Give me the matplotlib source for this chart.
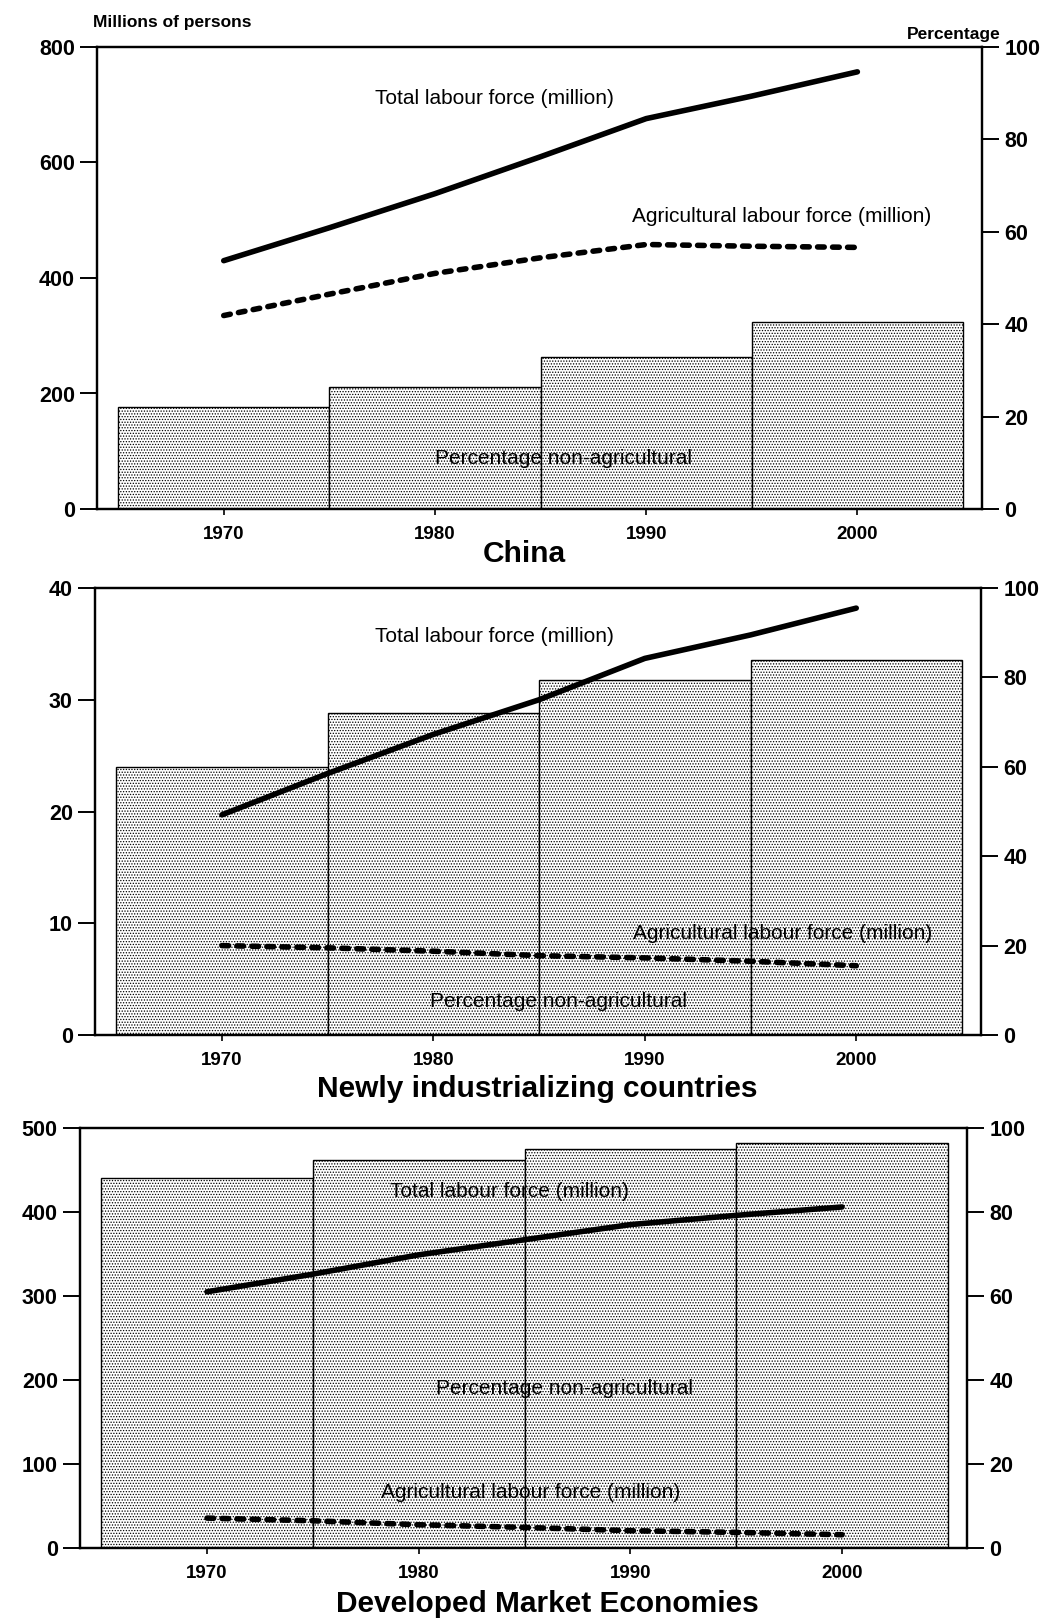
import matplotlib
matplotlib.use("Agg")
import matplotlib.pyplot as plt

plt.rcParams['font.family'] = ['Liberation Sans', 'DejaVu Sans']
plt.rcParams['hatch.color'] = 'black'
plt.rcParams['hatch.linewidth'] = 0.6

years = [1970, 1975, 1980, 1985, 1990, 1995, 2000]
bar_years = [1970, 1980, 1990, 2000]

# China
china_total = [430, 487, 546, 610, 676, 715, 757]
china_agri = [335, 372, 408, 435, 458, 455, 453]
china_pct = [22, 26.5, 33, 40.5]

# Newly industrializing countries
nic_total = [19.7, 23.4, 26.9, 30.0, 33.7, 35.8, 38.2]
nic_agri = [8.0, 7.8, 7.5, 7.1, 6.9, 6.6, 6.2]
nic_pct = [60, 72, 79.5, 84]

# Developed market economies
dme_total = [305, 326, 349, 367, 385, 396, 406]
dme_agri = [35.6, 32.4, 27.7, 24.5, 20.6, 18.6, 15.8]
dme_pct = [88, 92.5, 95, 96.5]

W, H = 1057, 1619
fig = plt.figure(figsize=(W / 100, H / 100), dpi=100)


def add_axes_px(left, top, right, bottom):
    return fig.add_axes([left / W, 1 - bottom / H, (right - left) / W, (bottom - top) / H])


def panel(box, total, agri, pct, ymax, yticks, labels):
    ax = add_axes_px(*box)
    ax2 = ax.twinx()
    ax.set_zorder(ax2.get_zorder() + 1)
    ax.patch.set_visible(False)

    ax2.bar(bar_years, pct, width=10, color='white', edgecolor='black',
            linewidth=1.0, hatch='......', zorder=1)
    ax2.set_ylim(0, 100)
    ax2.set_yticks([0, 20, 40, 60, 80, 100])

    ax.plot(years, total, color='black', lw=4, solid_capstyle='round')
    ax.plot(years, agri, color='black', lw=4, linestyle=(0, (1.2, 1.5)),
            dash_capstyle='round')
    ax.set_ylim(0, ymax)
    ax.set_yticks(yticks)
    ax.set_xlim(1964, 2005.9)
    ax.set_xticks([1970, 1980, 1990, 2000])

    for a in (ax, ax2):
        for s in a.spines.values():
            s.set_linewidth(1.6)
        a.tick_params(axis='y', length=12, width=1.4, labelsize=15.5, pad=4)
        for t in a.get_yticklabels():
            t.set_fontweight('bold')
    ax.tick_params(axis='x', length=4, width=1.2, labelsize=13.5, pad=8)
    for t in ax.get_xticklabels():
        t.set_fontweight('bold')

    for txt, x, y in labels:
        ax.text(x, y, txt, ha='center', va='center', fontsize=15, zorder=5)
    return ax


panel((97, 47, 982, 509), china_total, china_agri, china_pct, 800,
      [0, 200, 400, 600, 800],
      [('Total labour force (million)', 1982.8, 710),
       ('Agricultural labour force (million)', 1996.4, 506),
       ('Percentage non-agricultural', 1986.1, 88)])
fig.text(524 / W, 1 - 554 / H, 'China', ha='center', va='center',
         fontsize=21.5, fontweight='bold')
fig.text(93 / W, 1 - 23 / H, 'Millions of persons', ha='left', va='center',
         fontsize=12.5, fontweight='bold')
fig.text(1001 / W, 1 - 34 / H, 'Percentage', ha='right', va='center',
         fontsize=12.5, fontweight='bold')

panel((95, 588, 981, 1035), nic_total, nic_agri, nic_pct, 40,
      [0, 10, 20, 30, 40],
      [('Total labour force (million)', 1982.9, 35.7),
       ('Agricultural labour force (million)', 1996.5, 9.1),
       ('Percentage non-agricultural', 1985.9, 3.0)])
fig.text(537 / W, 1 - 1089 / H, 'Newly industrializing countries', ha='center',
         va='center', fontsize=21.5, fontweight='bold')

panel((80, 1128, 967, 1548), dme_total, dme_agri, dme_pct, 500,
      [0, 100, 200, 300, 400, 500],
      [('Total labour force (million)', 1984.3, 424),
       ('Agricultural labour force (million)', 1985.3, 66),
       ('Percentage non-agricultural', 1986.9, 190)])
fig.text(547 / W, 1 - 1604 / H, 'Developed Market Economies', ha='center',
         va='center', fontsize=21.5, fontweight='bold')

fig.savefig('out.png', dpi=100, facecolor='white')
